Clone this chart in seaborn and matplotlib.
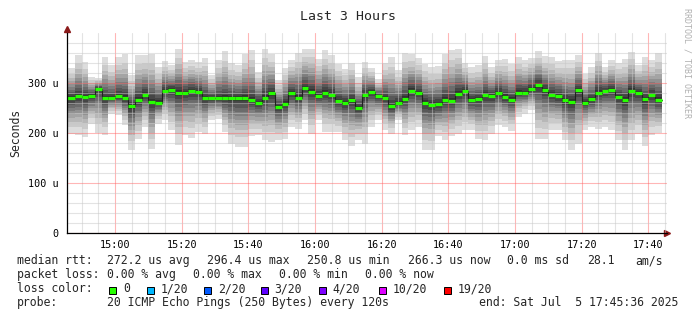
import numpy as np
import pandas as pd
import seaborn as sns
import matplotlib.pyplot as plt
import matplotlib.dates as mdates
from matplotlib.patches import Rectangle

# ---- data (microseconds), one value per 2-minute step 14:46 .. 17:44 ----
median_us = [270, 274, 273, 275, 289, 270, 270, 274, 270, 254, 267, 277, 263, 261, 285,
             287, 281, 281, 285, 283, 270, 270, 270, 270, 270, 270, 270, 266, 261, 271,
             280, 253, 259, 280, 271, 290, 283, 274, 281, 277, 264, 261, 266, 251, 277,
             283, 274, 270, 254, 261, 268, 285, 280, 261, 257, 258, 267, 265, 278, 284,
             266, 268, 277, 274, 281, 273, 267, 281, 281, 288, 297, 287, 277, 274, 266,
             263, 286, 261, 268, 281, 284, 287, 273, 267, 285, 281, 268, 277, 266]
smoke_max_us = [331, 356, 343, 313, 311, 353, 336, 353, 358, 316, 357, 356, 359, 333, 344,
                336, 368, 343, 347, 343, 351, 317, 346, 364, 341, 336, 359, 366, 323, 369,
                359, 306, 331, 346, 361, 369, 369, 349, 366, 356, 339, 329, 341, 313, 343,
                331, 308, 341, 353, 326, 361, 358, 351, 339, 333, 334, 359, 366, 368, 341,
                333, 336, 355, 333, 347, 349, 339, 353, 346, 351, 364, 354, 353, 344, 346,
                346, 356, 319, 333, 361, 333, 347, 341, 348, 363, 336, 353, 346, 361]
smoke_min_us = [198, 197, 193, 219, 201, 197, 239, 236, 216, 167, 189, 213, 169, 219, 226,
                206, 177, 196, 191, 203, 199, 226, 229, 203, 179, 173, 173, 194, 196, 186,
                183, 186, 189, 213, 209, 226, 199, 226, 203, 203, 203, 186, 174, 186, 179,
                213, 226, 206, 199, 226, 196, 206, 213, 167, 167, 194, 186, 194, 199, 206,
                206, 189, 186, 199, 216, 213, 205, 233, 239, 246, 189, 189, 206, 206, 186,
                167, 179, 206, 213, 208, 213, 206, 186, 167, 186, 199, 174, 196, 201]

loss_labels = ["0", "1/20", "2/20", "3/20", "4/20", "10/20", "19/20"]
loss_colors = ["#26ff00", "#00b8ff", "#0059ff", "#5e00ff", "#7e00ff", "#dd00ff", "#ff0000"]

t_start = pd.Timestamp("2025-07-05 14:45:36")
t_end = pd.Timestamp("2025-07-05 17:45:36")
edges = pd.date_range("2025-07-05 14:46", periods=len(median_us) + 1, freq="2min")
edges = edges.insert(0, t_start).delete(1)
x = mdates.date2num(edges.to_pydatetime())

df = pd.DataFrame({"t": x, "median": median_us + median_us[-1:]})

sns.set_style("white")
mono = "DejaVu Sans Mono"
plt.rcParams["font.family"] = [mono]

W, H = 697, 321
fig = plt.figure(figsize=(W / 100, H / 100), dpi=100)
fig.patch.set_facecolor("white")
ax = fig.add_axes([67 / W, 1 - 233 / H, 600 / W, 200 / H])

# smoke: smokeping-style gray bands, darkest around the median, lightest at min/max
med = np.array(median_us, float)
lo = np.array(smoke_min_us, float)
hi = np.array(smoke_max_us, float)
yy = np.linspace(0, 400, 801)
yc = (yy[:-1] + yy[1:]) / 2
up = (yc[:, None] - med) / (hi - med)
dn = (med - yc[:, None]) / (med - lo)
frac = np.where(yc[:, None] >= med, up, dn)
band_edge = np.array([1.0, 0.80, 0.66, 0.55, 0.45, 0.36, 0.28, 0.20, 0.13, 0.06])
band = (frac[..., None] <= band_edge).sum(axis=-1)          # 0 = outside, 10 = innermost
gray = 221 - 19 * (band - 1)
gray = np.ma.masked_where(band == 0, gray)
ax.pcolormesh(x, yy, gray, cmap="gray", vmin=0, vmax=255, shading="flat", zorder=1,
              rasterized=True)

# median: thin dark step line, green loss band on the flat parts
sns.lineplot(data=df, x="t", y="median", drawstyle="steps-post", color="#202020",
             lw=0.8, ax=ax, zorder=3)
ax.hlines(median_us, x[:-1], x[1:], color=loss_colors[0], lw=2.3, zorder=6)

ax.set_xlim(mdates.date2num(t_start), mdates.date2num(t_end))
ax.set_ylim(0, 400)

ax.xaxis.set_major_locator(mdates.MinuteLocator(byminute=[0, 20, 40]))
ax.xaxis.set_minor_locator(mdates.MinuteLocator(byminute=range(0, 60, 5)))
ax.xaxis.set_major_formatter(mdates.DateFormatter("%H:%M"))
ax.set_yticks([0, 100, 200, 300])
ax.set_yticklabels(["0", "100 u", "200 u", "300 u"])
ax.set_yticks(np.arange(20, 400, 20), minor=True)

ax.grid(True, which="minor", color="#c8c8c8", alpha=0.5, lw=0.8, zorder=5)
ax.grid(True, which="major", color="#ff5f5f", alpha=0.45, lw=0.8, zorder=5)
ax.set_axisbelow(False)

ax.tick_params(axis="both", which="both", labelsize=7.3, colors="black", length=2,
               width=0.8, direction="inout")
ax.tick_params(axis="x", pad=4)
ax.tick_params(axis="y", pad=5)
for lbl in ax.get_xticklabels() + ax.get_yticklabels():
    lbl.set_family(mono)

for s in ["top", "right"]:
    ax.spines[s].set_visible(False)
for s in ["left", "bottom"]:
    ax.spines[s].set_color("black")
    ax.spines[s].set_linewidth(0.9)
    ax.spines[s].set_zorder(7)
ax.set_xlabel("")
ax.set_ylabel("Seconds", fontsize=8.3, family=mono, labelpad=4)

# axis arrows
ax.plot([1.0], [0], marker=">", color="#8b1a1a", ms=4, transform=ax.transAxes, clip_on=False)
ax.plot([0], [1.02], marker="^", color="#8b1a1a", ms=4, transform=ax.transAxes, clip_on=False)

def fy(py):
    return 1 - py / H

fig.text(347.5 / W, fy(20), "Last 3 Hours", ha="center", va="baseline", fontsize=9.5, family=mono)
fig.text(687 / W, fy(63), "RRDTOOL / TOBI OETIKER", rotation=-90, ha="center", va="center",
         fontsize=6, color="#b0b0b0", family=mono)

fs = 8.3
rows = [
    (264.3, [(17, "median rtt:"), (107.3, "272.2 us avg"), (207.3, "296.4 us max"),
             (307, "250.8 us min"), (407.7, "266.3 us now"), (506.7, "0.0 ms sd"),
             (586.7, "28.1"), (635.7, "am/s")]),
    (278.3, [(17, "packet loss:"), (107.3, "0.00 % avg"), (193.3, "0.00 % max"),
             (279.3, "0.00 % min"), (365, "0.00 % now")]),
    (292.3, [(17, "loss color:")]),
    (306.3, [(17, "probe:"), (107.3, "20 ICMP Echo Pings (250 Bytes) every 120s"),
             (479.3, "end: Sat Jul  5 17:45:36 2025")]),
]
for yb, items in rows:
    for px, txt in items:
        fig.text(px / W, fy(yb), txt, ha="left", va="baseline", fontsize=fs, family=mono)

box_x = [109.3, 146.7, 204.3, 261, 319.3, 379, 444]
for bx, lab, col in zip(box_x, loss_labels, loss_colors):
    fig.patches.append(Rectangle((bx / W, fy(294)), 7 / W, 7 / H, transform=fig.transFigure,
                                 facecolor=col, edgecolor="black", lw=0.7))
    fig.text((bx + 13.5) / W, fy(292.3), lab, ha="left", va="baseline", fontsize=fs, family=mono)

fig.savefig("out.png", dpi=100, facecolor="white")
